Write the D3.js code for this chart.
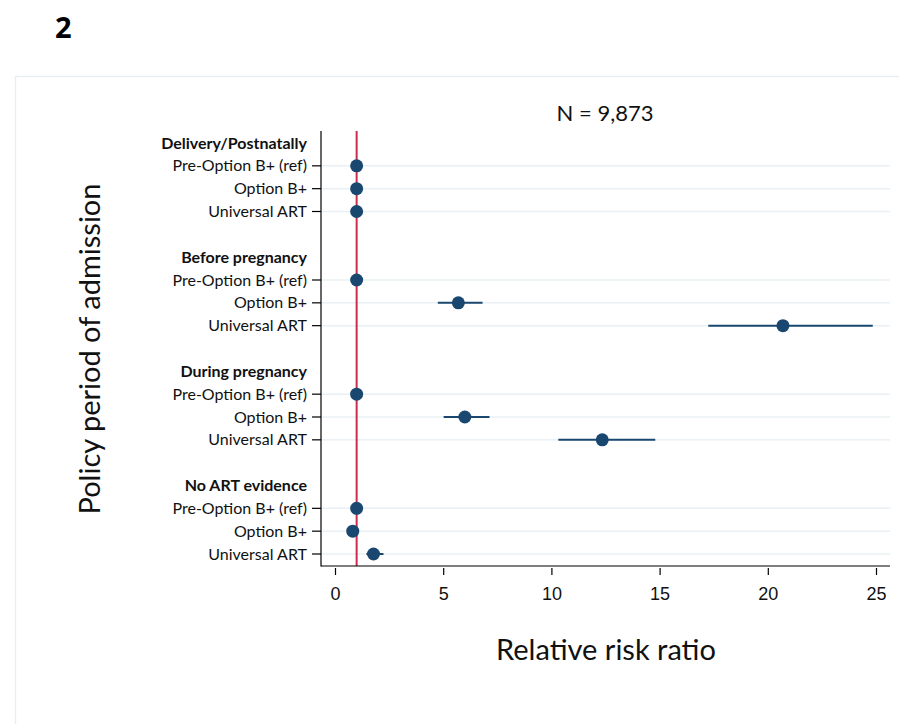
<!DOCTYPE html>
<html>
<head>
<meta charset="utf-8">
<script src="https://cdn.jsdelivr.net/npm/d3@7"></script>
<style>
  body { margin: 0; background: #fff; }
  svg { display: block; font-family: Lato, "Open Sans", sans-serif; }
</style>
</head>
<body>
<div id="chart"></div>
<script>
// group headers and the policy periods inside each group
const groups = ["Delivery/Postnatally", "Before pregnancy", "During pregnancy", "No ART evidence"];
const periods = ["Pre-Option B+ (ref)", "Option B+", "Universal ART"];

// relative risk ratio estimates, one row per group (same order as periods)
const rrr = [
    [1, 1, 1],
    [1, 5.7, 20.7],
    [1, 6.0, 12.35],
    [1, 0.82, 1.78]
];
// 95% CI bounds (null = reference, no interval)
const ciLow = [
    [null, null, null],
    [null, 4.75, 17.25],
    [null, 5.02, 10.32],
    [null, 0.7, 1.45]
];
const ciHigh = [
    [null, null, null],
    [null, 6.82, 24.85],
    [null, 7.14, 14.8],
    [null, 0.95, 2.24]
];
const xTicks = [0, 5, 10, 15, 20, 25];
const refValue = 1;

const width = 899, height = 724;

const svg = d3.select("#chart")
    .append("svg")
    .attr("width", width)
    .attr("height", height);

// panel border
svg.append("rect")
    .attr("x", 15.5).attr("y", 76.5)
    .attr("width", 900).attr("height", 700)
    .attr("fill", "none")
    .attr("stroke", "#e9eff1")
    .attr("stroke-width", 1.5);

// panel letter
svg.append("text")
    .attr("x", 55).attr("y", 38)
    .style("font-size", "29px")
    .style("font-weight", "bold")
    .style("font-family", "'Open Sans', sans-serif")
    .text("2");

// build rows: header, 3 periods, blank spacer
const rows = [];
groups.forEach((g, gi) => {
    rows.push({ type: "header", label: g });
    periods.forEach((p, pi) => {
        rows.push({
            type: "item", label: p,
            value: rrr[gi][pi], lo: ciLow[gi][pi], hi: ciHigh[gi][pi]
        });
    });
    if (gi < groups.length - 1) rows.push({ type: "blank" });
});

const x = d3.scaleLinear().domain([0, 25]).range([335, 876]);
const y = d3.scaleLinear().domain([0, rows.length - 1]).range([143, 554]);
const plotLeft = 321, plotRight = 890, plotTop = 131, plotBottom = 566;

const items = rows.map((r, i) => ({ ...r, i })).filter(r => r.type === "item");
const headers = rows.map((r, i) => ({ ...r, i })).filter(r => r.type === "header");

// gridlines
svg.append("g")
    .selectAll("line")
    .data(items)
    .join("line")
    .attr("x1", plotLeft).attr("x2", plotRight)
    .attr("y1", d => y(d.i)).attr("y2", d => y(d.i))
    .attr("stroke", "#eaf0f3")
    .attr("stroke-width", 1.5);

// reference line
svg.append("line")
    .attr("x1", x(refValue)).attr("x2", x(refValue))
    .attr("y1", plotTop).attr("y2", plotBottom)
    .attr("stroke", "#cf2a4f")
    .attr("stroke-width", 2);

// x axis
const xAxis = svg.append("g")
    .attr("transform", `translate(0,${plotBottom})`)
    .call(d3.axisBottom(x).tickValues(xTicks).tickSize(9).tickSizeOuter(0).tickPadding(12));
xAxis.select(".domain").remove();
xAxis.append("line")
    .attr("x1", plotLeft).attr("x2", plotRight)
    .attr("stroke", "#000").attr("stroke-width", 1.2);
xAxis.selectAll(".tick line").attr("stroke", "#000").attr("stroke-width", 1.2)
    .attr("y1", 2).attr("y2", 9);
xAxis.selectAll("text").style("font-size", "18px").attr("fill", "#111");

// y axis line
svg.append("line")
    .attr("x1", plotLeft).attr("x2", plotLeft)
    .attr("y1", plotTop).attr("y2", plotBottom + 0.5)
    .attr("stroke", "#000").attr("stroke-width", 1.2);

// y ticks for items
svg.append("g")
    .selectAll("line")
    .data(items)
    .join("line")
    .attr("x1", 312).attr("x2", plotLeft)
    .attr("y1", d => y(d.i)).attr("y2", d => y(d.i))
    .attr("stroke", "#000").attr("stroke-width", 1.2);

// item labels
svg.append("g")
    .selectAll("text")
    .data(items)
    .join("text")
    .attr("x", 307)
    .attr("y", d => y(d.i))
    .attr("dy", "0.35em")
    .attr("text-anchor", "end")
    .style("font-size", "16px")
    .attr("fill", "#111")
    .text(d => d.label);

// group headers
svg.append("g")
    .selectAll("text")
    .data(headers)
    .join("text")
    .attr("x", 307)
    .attr("y", d => y(d.i))
    .attr("dy", "0.35em")
    .attr("text-anchor", "end")
    .style("font-size", "16px")
    .style("font-weight", "bold")
    .attr("fill", "#111")
    .text(d => d.label);

// confidence intervals
svg.append("g")
    .selectAll("line")
    .data(items.filter(d => d.lo !== null))
    .join("line")
    .attr("x1", d => x(d.lo)).attr("x2", d => x(d.hi))
    .attr("y1", d => y(d.i)).attr("y2", d => y(d.i))
    .attr("stroke", "#1a476f")
    .attr("stroke-width", 2);

// point estimates
svg.append("g")
    .selectAll("circle")
    .data(items)
    .join("circle")
    .attr("cx", d => x(d.value))
    .attr("cy", d => y(d.i))
    .attr("r", 6.5)
    .attr("fill", "#1a476f");

// N label
svg.append("text")
    .attr("x", 605).attr("y", 121)
    .attr("text-anchor", "middle")
    .style("font-size", "22px")
    .attr("fill", "#111")
    .text("N = 9,873");

// axis titles
svg.append("text")
    .attr("x", 606).attr("y", 660)
    .attr("text-anchor", "middle")
    .style("font-size", "29px")
    .attr("fill", "#111")
    .text("Relative risk ratio");

svg.append("text")
    .attr("transform", "translate(100,349) rotate(-90)")
    .attr("text-anchor", "middle")
    .style("font-size", "29px")
    .attr("fill", "#111")
    .text("Policy period of admission");
</script>
</body>
</html>
